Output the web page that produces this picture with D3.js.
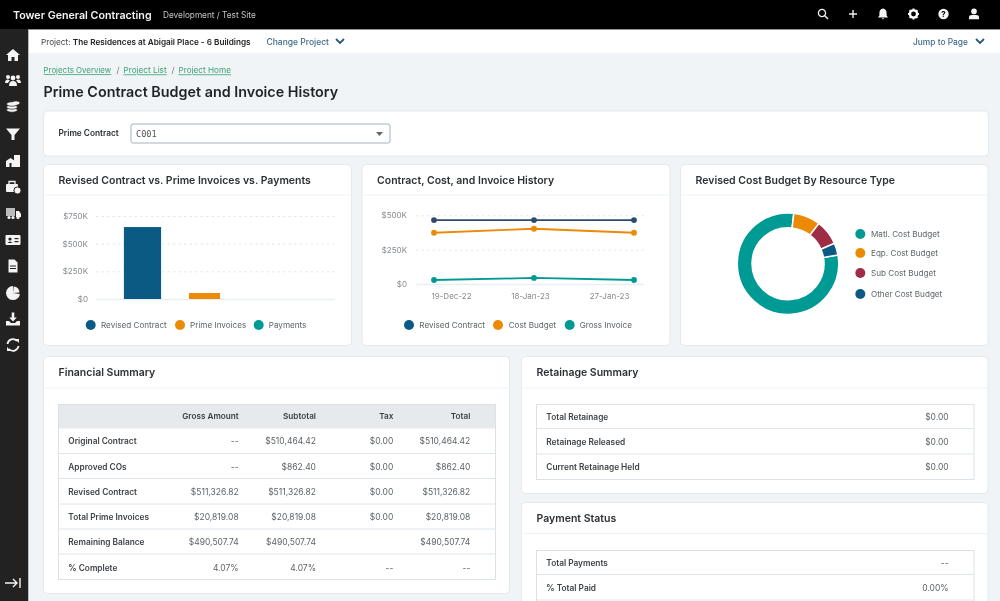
<!DOCTYPE html>
<html><head><meta charset="utf-8">
<script src="https://cdn.jsdelivr.net/npm/d3@7"></script>
<style>
html,body{margin:0;padding:0;background:#f1f4f6;overflow:hidden}
svg{display:block;font-family:Inter,"Noto Sans",sans-serif;filter:blur(0.35px)}
</style></head><body>
<svg id="page" width="1000" height="601"></svg>
<script>
// ---------- data ----------
const barCategories = ["Revised Contract","Prime Invoices","Payments"];
const barValues = [650000,54000,0];
const barTicks = [0,250000,500000,750000];
const lineDates = ["19-Dec-22","18-Jan-23","27-Jan-23"];
const lineRevised = [465000,465000,465000];
const lineCost = [373000,402000,373000];
const lineGross = [29000,44000,29000];
const lineTicks = [0,250000,500000];
const lineNames = ["Revised Contract","Cost Budget","Gross Invoice"];
const donutNames = ["Matl. Cost Budget","Eqp. Cost Budget","Sub Cost Budget","Other Cost Budget"];
const donutValues = [79.6,8.6,8,3.8];
const finColumns = ["Gross Amount","Subtotal","Tax","Total"];
const finRows = ["Original Contract","Approved COs","Revised Contract","Total Prime Invoices","Remaining Balance","% Complete"];
const finGross = ["--","--","$511,326.82","$20,819.08","$490,507.74","4.07%"];
const finSubtotal = ["$510,464.42","$862.40","$511,326.82","$20,819.08","$490,507.74","4.07%"];
const finTax = ["$0.00","$0.00","$0.00","$0.00","","--"];
const finTotal = ["$510,464.42","$862.40","$511,326.82","$20,819.08","$490,507.74","--"];
const retLabels = ["Total Retainage","Retainage Released","Current Retainage Held"];
const retValues = ["$0.00","$0.00","$0.00"];
const payLabels = ["Total Payments","% Total Paid"];
const payValues = ["--","0.00%"];

// ---------- styles ----------
const BLUE="#0b5a84",ORANGE="#ec8a06",TEAL="#009a94",RED="#9e2c45",NAVY="#2f4a70";
const DARK="#2b2f33",GREY="#6d7479",LINE="#e2e8ec";
const svg=d3.select("#page");
function T(x,y,s,o={}){
  return svg.append("text").attr("x",x).attr("y",y).attr("dy","0.35em")
    .attr("font-size",o.size||9).attr("font-weight",o.w||400).attr("fill",o.fill||DARK)
    .attr("text-anchor",o.anchor||"start").attr("text-decoration",o.deco||null).text(s);
}
function R(x,y,w,h,fill,o={}){
  return svg.append("rect").attr("x",x).attr("y",y).attr("width",w).attr("height",h).attr("fill",fill)
    .attr("rx",o.rx||0).attr("stroke",o.stroke||null).attr("stroke-width",o.sw||null);
}
function HL(x1,x2,y,c=LINE,w=1){svg.append("line").attr("x1",x1).attr("x2",x2).attr("y1",y).attr("y2",y).attr("stroke",c).attr("stroke-width",w);}

R(0,0,1000,601,"#f1f4f6");
// top bar
R(0,0,1000,29,"#000");
R(28,29,972,1,"#8c9094");
T(13,14.8,"Tower General Contracting",{size:10.7,w:600,fill:"#f2f2f2"});
T(163,14.8,"Development / Test Site",{size:8.25,fill:"#c4c4c4"});
// sub header
R(28,30,972,23,"#fff");
const sub=T(41,42,"Project: ",{size:8.2,fill:"#444"});
sub.append("tspan").attr("font-weight",600).attr("fill","#222").text("The Residences at Abigail Place - 6 Buildings");
T(266.5,42,"Change Project",{size:8.5,w:500,fill:"#3f6a8a"});
T(913,42,"Jump to Page",{size:8.4,w:500,fill:"#3f6a8a"});
function chevron(x,y){svg.append("path").attr("d",`M${x-4},${y-2} L${x},${y+2} L${x+4},${y-2}`).attr("fill","none").attr("stroke","#2f5878").attr("stroke-width",1.8);}
chevron(340,41);chevron(980,41);
// breadcrumbs
const GREEN="#3aa276";
T(43.5,70.5,"Projects Overview",{size:7.9,fill:GREEN,deco:"underline"});
T(116.5,70.5,"/",{size:8.3,fill:"#777"});
T(123.5,70.5,"Project List",{size:8.2,fill:GREEN,deco:"underline"});
T(171.5,70.5,"/",{size:8.3,fill:"#777"});
T(178.5,70.5,"Project Home",{size:8.2,fill:GREEN,deco:"underline"});
T(43.5,91.5,"Prime Contract Budget and Invoice History",{size:14.35,w:600,fill:"#1f2326"});

function card(x,y,w,h,title,tx,headY){
  R(x,y,w,h,"#fff",{rx:4,stroke:"#e4e9ec",sw:1});
  if(title){T(tx,(y+headY)/2+0.5,title,{size:10.5,w:600,fill:"#2d3135"});HL(x+1,x+w,headY,"#f0f2f4");}
}
// prime contract selector
card(43.5,111,945,45);
T(58.5,133.5,"Prime Contract",{size:8.3,w:600,fill:"#2b2f33"});
R(131,124,259,19,"#fff",{rx:2,stroke:"#a3b4c0",sw:1});
T(136,134,"C001",{size:8.6,fill:"#555"}).style("font-family","'DejaVu Sans Mono',monospace");
svg.append("path").attr("d",d3.line()([[376,132],[383,132],[379.5,136]])+"Z").attr("fill","#666");

card(43.5,164.5,308,181,"Revised Contract vs. Prime Invoices vs. Payments",58.5,195);
card(362,164.5,308,181,"Contract, Cost, and Invoice History",377,195);
card(680.5,164.5,307.5,181,"Revised Cost Budget By Resource Type",695.5,195);
card(43.5,356.5,466,237,"Financial Summary",58.5,388);
card(521.5,356.5,466.5,137,"Retainage Summary",536.5,388);
card(521.5,502.5,466.5,110,"Payment Status",536.5,533.5);

const fmtK=d=>"$"+d/1000+"K";
const fmtAxis=d=>d===0?"$0":fmtK(d);
const axisFont=g=>g.selectAll("text").attr("fill","#858b90").attr("font-size",8).attr("font-family","Inter,sans-serif");
function styleAxis(g){
  g.select(".domain").remove();
  g.selectAll(".tick line").attr("stroke",LINE).attr("stroke-dasharray","2.5,3");
  axisFont(g);
}
// ---------- bar chart ----------
const bx=d3.scaleBand().domain(barCategories).range([111.5,297.5]);
const by=d3.scaleLinear().domain([0,750000]).range([299,216]);
const barColors=d3.scaleOrdinal().domain(barCategories).range([BLUE,ORANGE,TEAL]);
const barWidthRatio=d3.scaleOrdinal().domain(barCategories).range([0.6,0.5,0.5]);
svg.append("g").attr("transform","translate(96,0)")
  .call(d3.axisLeft(by).tickValues(barTicks).tickFormat(fmtAxis).tickSizeInner(-239).tickSizeOuter(0).tickPadding(8))
  .call(styleAxis);
HL(96,335,299.5,"#e9eef2",1.5);
svg.append("g").selectAll("rect").data(barCategories).join("rect")
  .attr("x",d=>bx(d)+bx.bandwidth()*(1-barWidthRatio(d))/2)
  .attr("width",d=>bx.bandwidth()*barWidthRatio(d))
  .attr("y",(d,i)=>by(barValues[i]))
  .attr("height",(d,i)=>by(0)-by(barValues[i]))
  .attr("fill",d=>barColors(d));
function legendItem(cx,cy,tx,color,label,size=8.15){
  svg.append("circle").attr("cx",cx).attr("cy",cy).attr("r",5).attr("fill",color);
  T(tx,cy,label,{size,fill:"#5d6469"});
}
const barLegendDots=[90.7,180,258.7],barLegendText=[101,190,268.7];
barCategories.forEach((c,i)=>legendItem(barLegendDots[i],325,barLegendText[i],barColors(c),c));

// ---------- line chart ----------
const lx=d3.scalePoint().domain(lineDates).range([434,634]);
const lxLabels=d3.scalePoint().domain(lineDates).range([451,609]);
const ly=d3.scaleLinear().domain([0,500000]).range([284,215.3]);
svg.append("g").attr("transform","translate(416,0)")
  .call(d3.axisLeft(ly).tickValues(lineTicks).tickFormat(fmtAxis).tickSizeInner(-228).tickSizeOuter(0).tickPadding(9))
  .call(styleAxis);
HL(416,644,284.5,"#e9eef2",1.5);
svg.append("g").attr("transform","translate(0,287.5)")
  .call(d3.axisBottom(lxLabels).tickSize(0).tickPadding(6))
  .call(g=>{g.select(".domain").remove();axisFont(g);});
const path=d3.line().x((d,i)=>lx(lineDates[i])).y(d=>ly(d));
[[lineRevised,NAVY],[lineCost,ORANGE],[lineGross,TEAL]].forEach(([vals,c])=>{
  svg.append("path").attr("d",path(vals)).attr("fill","none").attr("stroke",c).attr("stroke-width",1.8);
  svg.append("g").selectAll("circle").data(vals).join("circle")
    .attr("cx",(d,i)=>lx(lineDates[i])).attr("cy",d=>ly(d)).attr("r",2.9).attr("fill",c);
});
const lineLegendDots=[409,498,569.7],lineLegendText=[419.3,508.7,579.7],lineLegendColors=[BLUE,ORANGE,TEAL];
lineNames.forEach((n,i)=>legendItem(lineLegendDots[i],325,lineLegendText[i],lineLegendColors[i],n));

// ---------- donut ----------
const donutColors=[TEAL,ORANGE,RED,BLUE];
const pie=d3.pie().sort(null).startAngle(80*Math.PI/180).endAngle(440*Math.PI/180);
const arc=d3.arc().innerRadius(36).outerRadius(50.7);
svg.append("g").attr("transform","translate(788,263.7)").selectAll("path").data(pie(donutValues)).join("path")
  .attr("d",arc).attr("fill",(d,i)=>donutColors[i]).attr("stroke","#fff").attr("stroke-width",1.5);
const donutLegendY=[234,253,273,294];
donutNames.forEach((n,i)=>legendItem(860.3,donutLegendY[i],871,donutColors[i],n));

// ---------- financial table ----------
R(58,404,438,24.5,"#e6eaed");
R(58.5,404.5,437,175,"none",{stroke:"#dbe2e7",sw:1});
const finRight=[238.7,316,393.3,470.3];
finColumns.forEach((c,i)=>T(finRight[i],416.5,c,{size:8.2,w:600,anchor:"end",fill:"#3a3f44"}));
const finY=[441.3,466.7,492,517.2,542.3,567.7],finLines=[453.5,478.5,504,529,554];
finLines.forEach(y=>HL(58,496,y,"#dfe6ea"));
finRows.forEach((r,i)=>{
  T(68.3,finY[i],r,{size:8.3,w:600,fill:"#3f4449"});
  [finGross,finSubtotal,finTax,finTotal].forEach((col,j)=>T(finRight[j],finY[i],col[i],{size:8.5,anchor:"end",fill:"#5d6469"}));
});
// ---------- side tables ----------
function sideTable(labels,values,ys,lines,top,bottom){
  R(536.5,top,437.5,bottom-top,"none",{stroke:"#dbe2e7",sw:1});
  lines.forEach(y=>HL(536.5,974,y,"#dfe6ea"));
  labels.forEach((l,i)=>{
    T(546.3,ys[i],l,{size:8.3,w:600,fill:"#3f4449"});
    T(948.7,ys[i],values[i],{size:8.5,anchor:"end",fill:"#5d6469"});
  });
}
sideTable(retLabels,retValues,[417.3,442.3,467.5],[428.5,454],404.5,479.5);
sideTable(payLabels,payValues,[563.3,588.3],[574.5,600],550.5,640);

// ---------- sidebar + icons ----------
R(0,29,28,572,"#222");
R(28,30,1,571,"#b9bdc0");
const sideY=[55,80,107,134,161,187,213,240,266,293,319,345];
const iconG=(x,y)=>svg.append("g").attr("transform",`translate(${x},${y})`).attr("fill","#f4f4f4");
const P=(g,d,o={})=>g.append("path").attr("d",d).attr("fill",o.fill||"#f4f4f4").attr("stroke",o.stroke||null).attr("stroke-width",o.sw||null);
const icons=[
 g=>P(g,"M-7,0 L0,-6 L7,0 L5,0 L5,6 L1.5,6 L1.5,2 L-1.5,2 L-1.5,6 L-5,6 L-5,0Z"),
 g=>{[-5,0,5].forEach((x,i)=>{g.append("circle").attr("cx",x).attr("cy",i==1?-2:-3).attr("r",i==1?2.4:2);});P(g,"M-4,6 Q-4,1 0,1 Q4,1 4,6Z");P(g,"M-8,3 Q-8,-0.5 -5,-0.5 L-3,0.5 Q-5,2 -5,3Z");P(g,"M8,3 Q8,-0.5 5,-0.5 L3,0.5 Q5,2 5,3Z");},
 g=>{[3,0,-3].forEach(y=>g.append("ellipse").attr("cx",-1).attr("cy",y).attr("rx",5.5).attr("ry",2.2).attr("stroke","#222").attr("stroke-width",.7));g.append("ellipse").attr("cx",3).attr("cy",-4).attr("rx",3.5).attr("ry",1.7);},
 g=>P(g,"M-7,-5.5 L7,-5.5 L1.5,1 L1.5,6 L-1.5,6 L-1.5,1Z"),
 g=>{P(g,"M-7,6 L-7,0 L-2.5,-3 L2,0 L2,6Z");R2(g,1,-6,6,12);P(g,"M-3.5,6 L-3.5,2 L-1.5,2 L-1.5,6Z",{fill:"#222"});},
 g=>{g.append("rect").attr("x",-7).attr("y",-3).attr("width",12).attr("height",8).attr("rx",1);P(g,"M-4,-3 L-4,-5.5 L2,-5.5 L2,-3",{fill:"none",stroke:"#f4f4f4",sw:1.3});g.append("circle").attr("cx",4.5).attr("cy",3.5).attr("r",3.6).attr("stroke","#222").attr("stroke-width",1);},
 g=>{g.append("rect").attr("x",-7).attr("y",-5).attr("width",9).attr("height",8).attr("fill","#bbb");P(g,"M3,-2 L6,-2 L8,1 L8,4 L3,4Z");[-4,0,5].forEach(x=>g.append("circle").attr("cx",x).attr("cy",4.5).attr("r",1.6));},
 g=>{g.append("rect").attr("x",-7.5).attr("y",-5).attr("width",15).attr("height",10).attr("rx",1);g.append("circle").attr("cx",-3).attr("cy",-1).attr("r",1.6).attr("fill","#222");P(g,"M-5.5,3 Q-3,0 -0.5,3Z",{fill:"#222"});g.append("rect").attr("x",1.5).attr("y",-2).attr("width",4).attr("height",1.2).attr("fill","#222");g.append("rect").attr("x",1.5).attr("y",1).attr("width",4).attr("height",1.2).attr("fill","#222");},
 g=>{P(g,"M-4.5,-6.5 L1.5,-6.5 L4.5,-3.5 L4.5,6.5 L-4.5,6.5Z");g.append("rect").attr("x",-3).attr("y",-0.5).attr("width",6).attr("height",1).attr("fill","#222");g.append("rect").attr("x",-3).attr("y",2).attr("width",6).attr("height",1).attr("fill","#222");},
 g=>{P(g,d3.arc().innerRadius(0).outerRadius(7)({startAngle:1.7,endAngle:6.28}));P(g,d3.arc().innerRadius(0).outerRadius(6.5)({startAngle:0.1,endAngle:1.5}));},
 g=>{P(g,"M-1.3,-6.5 L1.3,-6.5 L1.3,-1.5 L3.8,-1.5 L0,2.5 L-3.8,-1.5 L-1.3,-1.5Z");P(g,"M-7,2 L-4,2 L-2,4 L2,4 L4,2 L7,2 L7,6.5 L-7,6.5Z");},
 g=>{P(g,"M-5.5,-1 A5.5,5.5 0 0 1 4,-4",{fill:"none",stroke:"#f4f4f4",sw:1.8});P(g,"M5.5,1 A5.5,5.5 0 0 1 -4,4",{fill:"none",stroke:"#f4f4f4",sw:1.8});P(g,"M2,-6 L6,-6 L6,-2Z");P(g,"M-2,6 L-6,6 L-6,2Z");}
];
function R2(g,x,y,w,h){g.append("rect").attr("x",x).attr("y",y).attr("width",w).attr("height",h);}
icons.forEach((f,i)=>f(iconG(13,sideY[i])));
// collapse arrow
P(iconG(13,583),"M-8,0 L4,0 M0,-4 L4,0 L0,4 M7,-5 L7,5",{fill:"none",stroke:"#f4f4f4",sw:1.4}).attr("fill","none");
// top icons
const t1=iconG(823,14);
t1.append("circle").attr("cx",-1).attr("cy",-1).attr("r",3.6).attr("fill","none").attr("stroke","#eee").attr("stroke-width",1.3);
P(t1,"M1.8,1.8 L5,5",{fill:"none",stroke:"#eee",sw:1.5});
P(iconG(853,14),"M-4,0 L4,0 M0,-4 L0,4",{fill:"none",stroke:"#eee",sw:1.4});
P(iconG(883,14),"M0,-5.5 Q-3.6,-5 -3.6,-1 L-3.6,1.5 L-5,3.5 L5,3.5 L3.6,1.5 L3.6,-1 Q3.6,-5 0,-5.5Z M-1.3,4.3 L1.3,4.3 L0,5.6Z");
const gear=iconG(913.5,14);
gear.append("circle").attr("r",3.6).attr("fill","none").attr("stroke","#fff").attr("stroke-width",2.4);
d3.range(8).forEach(i=>gear.append("rect").attr("x",-1).attr("y",-5.5).attr("width",2).attr("height",2).attr("transform",`rotate(${i*45})`));
const help=iconG(943.5,14);
help.append("circle").attr("r",5.2);
help.append("text").attr("text-anchor","middle").attr("dy","0.35em").attr("font-size",8).attr("font-weight",700).attr("fill","#000").text("?");
const user=iconG(974,14);
user.append("circle").attr("cy",-2.6).attr("r",2.8);
P(user,"M-5,5.3 L-5,3.4 Q-5,1 -2,1 L2,1 Q5,1 5,3.4 L5,5.3Z");
</script>
</body></html>
